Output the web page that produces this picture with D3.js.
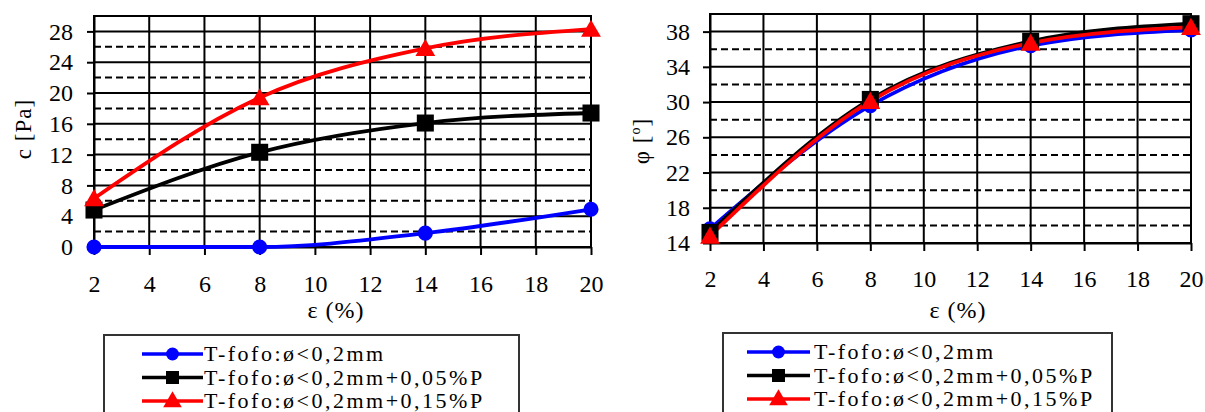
<!DOCTYPE html>
<html>
<head>
<meta charset="utf-8">
<script src="https://cdn.jsdelivr.net/npm/d3@7"></script>
<style>
  html, body { margin: 0; padding: 0; background: #fff; }
  svg { display: block; }
  text { font-family: "Liberation Serif", "Times New Roman", serif; fill: #000; }
</style>
</head>
<body>
<svg id="chart" width="1205" height="412"></svg>
<script>
// Strain levels (%)
const strain = [2, 8, 14, 20];

// Series labels
const seriesNames = [
  "T-fofo:ø<0,2mm",
  "T-fofo:ø<0,2mm+0,05%P",
  "T-fofo:ø<0,2mm+0,15%P"
];

// Cohesion c [Pa]
const cohesionPlain = [0, 0, 1.8, 4.9];
const cohesion005 = [4.8, 12.3, 16.1, 17.4];
const cohesion015 = [6.3, 19.4, 25.8, 28.3];

// Friction angle φ [°]
const phiPlain = [15.6, 29.6, 36.4, 38.2];
const phi005 = [15.2, 30.3, 36.9, 38.9];
const phi015 = [14.8, 30.1, 36.7, 38.5];

// Tick values
const xTicks = [2, 4, 6, 8, 10, 12, 14, 16, 18, 20];
const cTicks = [0, 4, 8, 12, 16, 20, 24, 28];
const cMinor = [2, 6, 10, 14, 18, 22, 26];
const phiTicks = [14, 18, 22, 26, 30, 34, 38];
const phiMinor = [16, 20, 24, 28, 32, 36];

const colors = ["#0000ff", "#000000", "#ff0000"];
const markers = [d3.symbolCircle, d3.symbolSquare, d3.symbolTriangle];

const svg = d3.select("#chart");

function drawPanel(opt) {
  const x = d3.scaleLinear().domain([2, 20]).range([opt.left, opt.right]);
  const y = d3.scaleLinear().domain(opt.yDomain).range([opt.bottom, opt.top]);
  const g = svg.append("g");

  // dashed minor grid
  g.selectAll("line.minor").data(opt.minor).join("line")
    .attr("x1", opt.left).attr("x2", opt.right)
    .attr("y1", d => y(d)).attr("y2", d => y(d))
    .attr("stroke", "#000").attr("stroke-width", 2)
    .attr("stroke-dasharray", "7,4");

  // solid major horizontal grid
  g.selectAll("line.major").data(opt.yTicks).join("line")
    .attr("x1", opt.left).attr("x2", opt.right)
    .attr("y1", d => y(d)).attr("y2", d => y(d))
    .attr("stroke", "#000").attr("stroke-width", 2);

  // vertical grid
  g.selectAll("line.vgrid").data(xTicks).join("line")
    .attr("x1", d => x(d)).attr("x2", d => x(d))
    .attr("y1", opt.top).attr("y2", opt.bottom)
    .attr("stroke", "#000").attr("stroke-width", 2);

  // frame
  g.append("rect")
    .attr("x", opt.left).attr("y", opt.top)
    .attr("width", opt.right - opt.left).attr("height", opt.bottom - opt.top)
    .attr("fill", "none").attr("stroke", "#000").attr("stroke-width", 2);

  // axes
  const xAxis = g.append("g")
    .attr("transform", `translate(0,${opt.bottom})`)
    .call(d3.axisBottom(x).tickValues(xTicks).tickSize(8).tickPadding(opt.xPad).tickSizeOuter(0));
  const yAxis = g.append("g")
    .attr("transform", `translate(${opt.left},0)`)
    .call(d3.axisLeft(y).tickValues(opt.yTicks).tickSize(7).tickPadding(opt.yPad).tickSizeOuter(0));
  [xAxis, yAxis].forEach(a => {
    a.select(".domain").attr("stroke", "#000").attr("stroke-width", 2);
    a.selectAll(".tick line").attr("stroke", "#000").attr("stroke-width", 2);
    a.selectAll(".tick text")
      .attr("font-family", "Liberation Serif, Times New Roman, serif")
      .attr("font-size", 24).attr("fill", "#000");
  });

  // series
  const line = d3.line()
    .x((d, i) => x(strain[i]))
    .y(d => y(d))
    .curve(d3.curveMonotoneX);

  opt.series.forEach((vals, k) => {
    g.append("path")
      .attr("d", line(vals))
      .attr("fill", "none")
      .attr("stroke", colors[k])
      .attr("stroke-width", 3.8);
  });
  opt.series.forEach((vals, k) => {
    const size = [180, 290, 170][k];
    g.selectAll(null).data(vals).join("path")
      .attr("transform", (d, i) => `translate(${x(strain[i])},${y(d) + (k === 2 ? 2 : 0)})`)
      .attr("d", d3.symbol().type(markers[k]).size(size))
      .attr("fill", colors[k]);
  });

  // axis titles
  svg.append("text")
    .attr("x", opt.xTitleX)
    .attr("y", 318)
    .attr("text-anchor", "middle")
    .attr("font-size", 24)
    .attr("letter-spacing", 1)
    .text("ε (%)");

  const yt = svg.append("text")
    .attr("transform", `translate(${opt.yTitleX},${opt.yTitleY}) rotate(-90)`)
    .attr("text-anchor", "middle")
    .attr("font-size", 23)
    .attr("letter-spacing", 1);
  opt.yTitle(yt);

  // legend
  const lg = svg.append("g");
  lg.append("rect")
    .attr("x", opt.legX).attr("y", opt.legY)
    .attr("width", opt.legW).attr("height", 120)
    .attr("fill", "#fff").attr("stroke", "#333").attr("stroke-width", 2);
  seriesNames.forEach((name, k) => {
    const ry = opt.legY + 19 + k * 23.5;
    lg.append("line")
      .attr("x1", opt.legX + opt.lineX0).attr("x2", opt.legX + opt.lineX1)
      .attr("y1", ry).attr("y2", ry)
      .attr("stroke", colors[k]).attr("stroke-width", 3.5);
    lg.append("path")
      .attr("transform", `translate(${opt.legX + (opt.lineX0 + opt.lineX1) / 2},${ry + (k === 2 ? 1 : 0)})`)
      .attr("d", d3.symbol().type(markers[k]).size([130, 170, 150][k]))
      .attr("fill", colors[k]);
    lg.append("text")
      .attr("x", opt.legX + opt.textX).attr("y", ry + 7)
      .attr("font-size", 22)
      .attr("letter-spacing", 2.5)
      .text(name);
  });
}

drawPanel({
  left: 94, right: 591, top: 16, bottom: 247,
  yDomain: [0, 30], yTicks: cTicks, minor: cMinor,
  xPad: 20, yPad: 14,
  series: [cohesionPlain, cohesion005, cohesion015],
  xTitleX: 336,
  yTitleX: 31, yTitleY: 129,
  yTitle: t => t.text("c [Pa]"),
  legX: 104, legY: 335, legW: 415,
  lineX0: 38, lineX1: 99, textX: 100
});

drawPanel({
  left: 710, right: 1191, top: 14, bottom: 243,
  yDomain: [14, 40], yTicks: phiTicks, minor: phiMinor,
  xPad: 19, yPad: 13,
  series: [phiPlain, phi005, phi015],
  xTitleX: 958,
  yTitleX: 649, yTitleY: 141,
  yTitle: t => {
    t.append("tspan").text("φ [");
    t.append("tspan").attr("font-size", 14).attr("dy", -9).text("o");
    t.append("tspan").attr("dy", 9).text("]");
  },
  legX: 723, legY: 333, legW: 389,
  lineX0: 24, lineX1: 87, textX: 91
});
</script>
</body>
</html>
